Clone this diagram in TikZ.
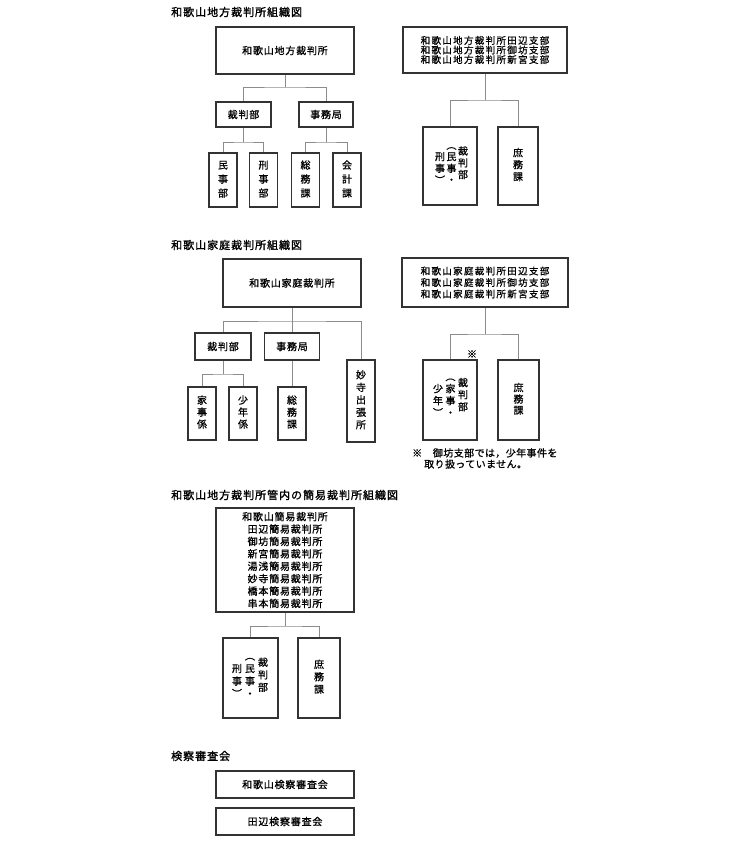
\documentclass[tikz,border=0pt]{standalone}
\usepackage{fontspec}
\newfontfamily\jp{Noto Sans CJK JP}[LetterSpace=8,FakeBold=1]
\newfontfamily\jpn{Noto Sans CJK JP}[LetterSpace=14,FakeBold=1]
\newfontfamily\jpf{Noto Sans CJK JP}[LetterSpace=4,FakeBold=1]
\newfontfamily\jpt{Noto Sans CJK JP}[LetterSpace=9,FakeBold=1.4]
\newfontfamily\jpv{Noto Sans CJK JP}[FakeBold=1]
\newcommand\vtxt[2]{{\fontsize{10}{#1}\selectfont\jpv\begin{tabular}{@{}c@{}}#2\end{tabular}}}
\begin{document}
\begin{tikzpicture}[x=1pt,y=-1pt,
  box/.style={draw=black!80,line width=1.1pt,inner sep=0pt,align=center,font=\fontsize{10}{11}\selectfont\jp},
  conn/.style={draw=black!45,line width=0.9pt},
  ttl/.style={anchor=west,inner sep=0pt,font=\fontsize{11}{12}\selectfont\jpt},
  col/.style={inner sep=0pt},
  note/.style={anchor=west,inner sep=0pt,font=\fontsize{10}{11}\selectfont\jpf}]
\useasboundingbox (0,0) rectangle (750,846);

% ===== 地方裁判所 =====
\node[ttl] (t1) at (171,12) {和歌山地方裁判所組織図};
\node[box,minimum width=138,minimum height=47] (cmain) at (285,50.5) {和歌山地方裁判所};
\node[box,minimum width=55,minimum height=25] (csaiban) at (243.5,114.5) {裁判部};
\node[box,minimum width=54,minimum height=25] (cjimu) at (326,114.5) {事務局};
\node[box,minimum width=28,minimum height=54] (cminji) at (223,180) {\vtxt{14}{民\\事\\部}};
\node[box,minimum width=28,minimum height=54] (ckeiji) at (263.5,180) {\vtxt{14}{刑\\事\\部}};
\node[box,minimum width=28,minimum height=54] (csomu) at (305.5,180) {\vtxt{14}{総\\務\\課}};
\node[box,minimum width=28,minimum height=54] (ckaikei) at (347,180) {\vtxt{14}{会\\計\\課}};
\coordinate (c1) at (285,87);
\coordinate (c2) at (243.5,142);
\coordinate (c3) at (326,142);
\draw[conn] (cmain.south) -- (c1);
\draw[conn] (csaiban.north) |- (c1) -| (cjimu.north);
\draw[conn] (csaiban.south) -- (c2);
\draw[conn] (cminji.north) |- (c2) -| (ckeiji.north);
\draw[conn] (cjimu.south) -- (c3);
\draw[conn] (csomu.north) |- (c3) -| (ckaikei.north);

% 支部
\node[box,minimum width=164,minimum height=46,font=\fontsize{9.5}{9.6}\selectfont\jpn] (b1) at (485,50)
  {和歌山地方裁判所田辺支部\\和歌山地方裁判所御坊支部\\和歌山地方裁判所新宮支部};
\node[box,minimum width=54,minimum height=78] (b1s) at (450,166) {};
\node[box,minimum width=40,minimum height=78] (b1h) at (518,166) {\vtxt{12}{庶\\務\\課}};
\node[col] (b1sa) at (463,164) {\vtxt{11.3}{裁\\判\\部\\ }};
\node[col] (b1sb) at (451.5,164) {\vtxt{11.3}{︵\\民\\事\\・}};
\node[col] (b1sc) at (440,164) {\vtxt{11.3}{ \\刑\\事\\︶}};
\coordinate (b1j) at (485,100);
\draw[conn] (b1.south) -- (b1j);
\draw[conn] (b1s.north) |- (b1j) -| (b1h.north);

% ===== 家庭裁判所 =====
\node[ttl] (t2) at (171,245) {和歌山家庭裁判所組織図};
\node[box,minimum width=138,minimum height=48] (kmain) at (292,283) {和歌山家庭裁判所};
\node[box,minimum width=56,minimum height=27] (ksaiban) at (223,346.5) {裁判部};
\node[box,minimum width=55,minimum height=27] (kjimu) at (292,346.5) {事務局};
\node[box,minimum width=28,minimum height=82] (kmyo) at (361,401) {\vtxt{12.5}{妙\\寺\\出\\張\\所}};
\node[box,minimum width=28,minimum height=53] (kkaji) at (202,413.5) {\vtxt{12}{家\\事\\係}};
\node[box,minimum width=28,minimum height=53] (kshonen) at (243,413.5) {\vtxt{12}{少\\年\\係}};
\node[box,minimum width=28,minimum height=53] (ksomu) at (292,413.5) {\vtxt{12}{総\\務\\課}};
\coordinate (k1) at (292,321);
\coordinate (k2) at (223,374);
\draw[conn] (kmain.south) -- (k1);
\draw[conn] (ksaiban.north) |- (k1) -| (kmyo.north);
\draw[conn] (k1) -- (kjimu.north);
\draw[conn] (ksaiban.south) -- (k2);
\draw[conn] (kkaji.north) |- (k2) -| (kshonen.north);
\draw[conn] (kjimu.south) -- (ksomu.north);

% 支部
\node[box,minimum width=166,minimum height=49,font=\fontsize{9.5}{11.5}\selectfont\jpn] (b2) at (485,282.5)
  {和歌山家庭裁判所田辺支部\\和歌山家庭裁判所御坊支部\\和歌山家庭裁判所新宮支部};
\node[box,minimum width=54,minimum height=80] (b2s) at (450,400) {};
\node[box,minimum width=41,minimum height=80] (b2h) at (518.5,400) {\vtxt{10.5}{庶\\務\\課}};
\node[col] (b2sa) at (463,396) {\vtxt{12}{裁\\判\\部\\ }};
\node[col] (b2sb) at (450.5,396) {\vtxt{12}{︵\\家\\事\\・}};
\node[col] (b2sc) at (438,396) {\vtxt{12}{ \\少\\年\\︶}};
\node[col,font=\fontsize{10}{10}\selectfont\jpv] (kome) at (472,354) {※};
\coordinate (b2j) at (485,334);
\draw[conn] (b2.south) -- (b2j);
\draw[conn] (b2s.north) |- (b2j) -| (b2h.north);
\node[note] (n1) at (412,453) {※　御坊支部では，少年事件を};
\node[note] (n2) at (424,464) {取り扱っていません。};

% ===== 簡易裁判所 =====
\node[ttl] (t3) at (171,495) {和歌山地方裁判所管内の簡易裁判所組織図};
\node[box,minimum width=138,minimum height=104,font=\fontsize{10}{12.4}\selectfont\jp] (smain) at (285,560)
  {和歌山簡易裁判所\\田辺簡易裁判所\\御坊簡易裁判所\\新宮簡易裁判所\\湯浅簡易裁判所\\妙寺簡易裁判所\\橋本簡易裁判所\\串本簡易裁判所};
\node[box,minimum width=55,minimum height=80] (ss) at (250.5,678) {};
\node[box,minimum width=42,minimum height=80] (sh) at (319,678) {\vtxt{12.5}{庶\\務\\課}};
\node[col] (ssa) at (263,676) {\vtxt{12.5}{裁\\判\\部\\ }};
\node[col] (ssb) at (250,676) {\vtxt{12.5}{︵\\民\\事\\・}};
\node[col] (ssc) at (237,676) {\vtxt{12.5}{ \\刑\\事\\︶}};
\coordinate (sj) at (285,626);
\draw[conn] (smain.south) -- (sj);
\draw[conn] (ss.north) |- (sj) -| (sh.north);

% ===== 検察審査会 =====
\node[ttl] (t4) at (171,756) {検察審査会};
\node[box,minimum width=138,minimum height=27] (ken1) at (285,784.5) {和歌山検察審査会};
\node[box,minimum width=138,minimum height=27] (ken2) at (285,821.5) {田辺検察審査会};
\end{tikzpicture}
\end{document}
